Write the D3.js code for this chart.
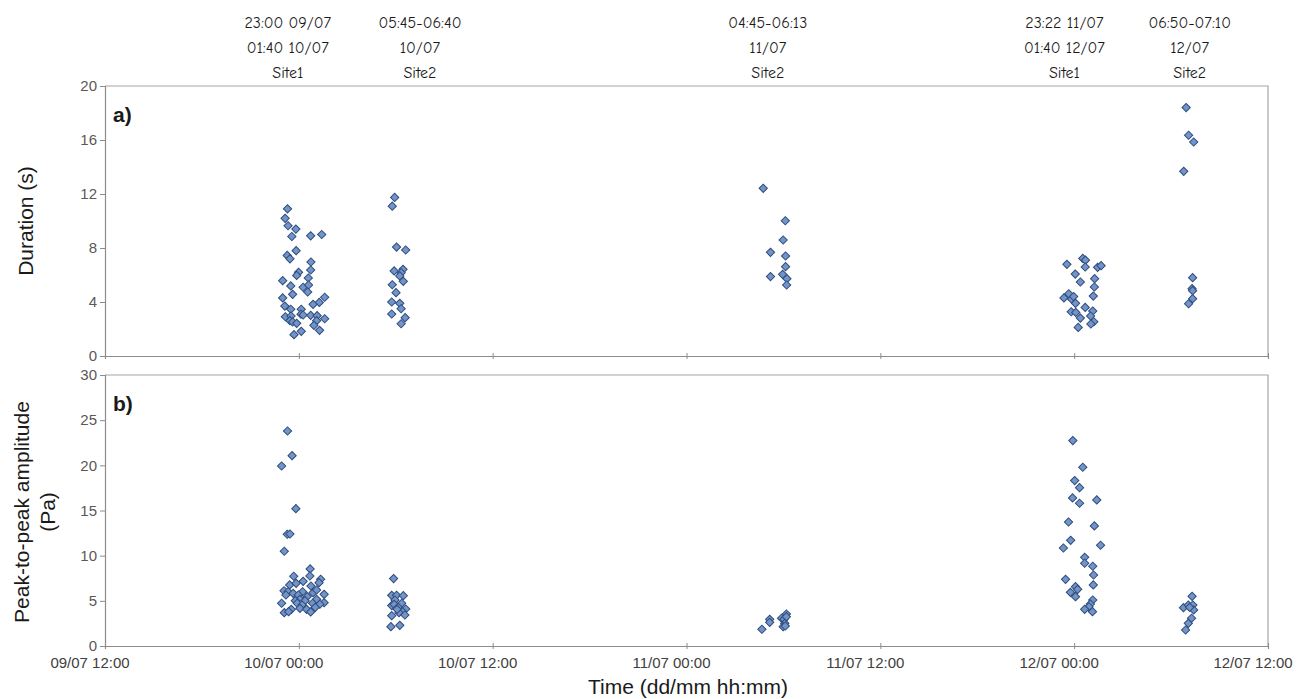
<!DOCTYPE html>
<html><head><meta charset="utf-8">
<script src="https://cdn.jsdelivr.net/npm/d3@7"></script>
<style>body{margin:0;background:#fff;} svg{display:block}</style>
</head><body>
<svg id="c" width="1296" height="699"></svg>
<script>
// ---------- DATA ----------
const durationTimes = [
"09/07 23:18","09/07 23:09","09/07 23:20","09/07 23:49","09/07 23:34","10/07 00:44","10/07 01:25","09/07 23:50","09/07 23:17","09/07 23:27",
"10/07 00:45","10/07 00:44","09/07 23:59","09/07 23:52","09/07 23:00","10/07 00:35","09/07 23:30","10/07 00:16","10/07 00:36","10/07 00:33",
"09/07 23:37","09/07 23:00","10/07 01:36","10/07 01:16","10/07 00:53","09/07 23:08","09/07 23:30","10/07 00:09","09/07 23:10","09/07 23:31",
"10/07 00:08","10/07 00:16","10/07 00:44","10/07 01:08","10/07 01:36","09/07 23:27","09/07 23:37","09/07 23:52","10/07 01:06","10/07 00:56",
"10/07 00:09","09/07 23:42","10/07 01:17",
"10/07 05:56","10/07 05:47","10/07 06:03","10/07 06:37","10/07 05:54","10/07 06:27","10/07 06:20","10/07 06:15","10/07 06:28","10/07 05:47",
"10/07 06:01","10/07 05:45","10/07 06:15","10/07 06:20","10/07 05:45","10/07 06:35","10/07 06:20",
"11/07 04:45","11/07 06:07","11/07 05:59","11/07 05:12","11/07 06:08","11/07 06:08","11/07 05:12","11/07 05:57","11/07 06:13","11/07 06:12",
"11/07 23:33","12/07 00:32","12/07 00:42","12/07 00:41","12/07 01:27","12/07 01:40","12/07 00:04","12/07 00:23","12/07 01:16","12/07 01:15",
"12/07 01:11","11/07 23:40","11/07 23:22","11/07 23:50","11/07 23:58","12/07 00:05","11/07 23:49","12/07 00:06","12/07 00:41","12/07 01:09",
"12/07 01:01","12/07 00:23","12/07 01:13","12/07 01:02","12/07 00:15",
"12/07 06:56","12/07 07:05","12/07 07:24","12/07 06:47","12/07 07:20","12/07 07:18","12/07 07:20","12/07 07:20","12/07 07:05"
];
const durationValues = [
10.9,10.2,9.65,9.4,8.85,8.9,9.0,7.8,7.45,7.2,
6.96,6.37,6.2,5.97,5.58,5.78,5.19,5.09,5.26,4.74,
4.57,4.3,4.35,3.97,3.83,3.7,3.46,3.46,2.91,2.96,
3.09,3.04,3.01,2.99,2.76,2.62,2.52,2.42,2.62,2.27,
1.83,1.58,1.9,
11.75,11.1,8.07,7.85,6.3,6.42,6.17,5.93,5.53,5.28,
4.69,4.0,3.9,3.5,3.11,2.84,2.39,
12.42,10.02,8.59,7.68,7.41,6.62,5.88,6.05,5.73,5.26,
6.79,7.23,7.1,6.59,6.57,6.69,6.07,5.48,5.73,5.11,
4.44,4.61,4.3,4.22,4.4,3.9,3.28,3.23,3.6,3.33,
2.96,2.81,2.54,2.37,2.12,
18.4,16.35,15.85,13.68,5.8,4.99,4.84,4.25,3.87
];
const amplitudeTimes = [
"09/07 23:18","09/07 23:35","09/07 22:56","09/07 23:49","09/07 23:17","09/07 23:27","09/07 23:06","10/07 00:42","09/07 23:41","10/07 00:41",
"10/07 00:16","10/07 01:21","10/07 01:15","09/07 23:26","10/07 00:45","09/07 23:50","09/07 23:05","09/07 23:20","09/07 23:39","10/07 00:14",
"10/07 00:53","10/07 01:06","10/07 01:34","09/07 23:12","09/07 23:58","10/07 00:31","10/07 00:04","09/07 23:47","10/07 00:23","10/07 01:06",
"10/07 01:34","09/07 22:56","09/07 23:54","10/07 00:12","10/07 00:51","10/07 01:18","10/07 00:04","09/07 23:32","10/07 00:29","09/07 23:06",
"09/07 23:22","10/07 00:44","10/07 01:01",
"10/07 05:52","10/07 05:45","10/07 06:03","10/07 06:28","10/07 05:57","10/07 05:45","10/07 05:54","10/07 06:22","10/07 06:09","10/07 06:37",
"10/07 06:25","10/07 05:45","10/07 06:12","10/07 06:34","10/07 05:42","10/07 06:15","10/07 06:05",
"11/07 04:40","11/07 05:09","11/07 05:09","11/07 05:53","11/07 06:11","11/07 06:02","11/07 06:05","11/07 05:59","11/07 06:07","11/07 06:11",
"11/07 23:55","12/07 00:32","12/07 00:02","12/07 00:20","11/07 23:54","12/07 00:20","12/07 01:24","11/07 23:39","12/07 01:15","11/07 23:47",
"11/07 23:20","12/07 01:38","12/07 00:39","12/07 00:39","12/07 01:09","12/07 01:12","11/07 23:28","12/07 01:11","12/07 00:05","12/07 00:13",
"11/07 23:46","12/07 00:05","12/07 01:09","12/07 01:00","12/07 00:55","12/07 00:39","12/07 01:08",
"12/07 07:18","12/07 06:46","12/07 07:04","12/07 07:21","12/07 07:24","12/07 07:16","12/07 07:04","12/07 06:54","12/07 07:09"
];
const amplitudeValues = [
23.8,21.07,19.93,15.2,12.37,12.4,10.49,8.53,7.72,7.75,
7.16,7.39,7.01,6.76,6.64,6.94,6.12,6.01,5.83,6.01,
5.9,6.2,5.72,5.65,5.65,5.46,5.17,5.02,5.02,5.17,
4.8,4.73,4.73,4.54,4.73,4.62,4.17,4.06,4.06,3.69,
3.8,3.77,4.28,
7.46,5.61,5.61,5.57,5.09,4.47,4.61,4.73,4.28,4.1,
3.8,3.36,3.69,3.43,2.14,2.29,4.06,
1.85,2.95,2.62,3.07,3.54,2.95,2.51,2.14,2.21,3.25,
22.74,19.79,18.31,17.53,16.39,15.8,16.17,13.73,13.29,11.7,
10.85,11.15,9.82,9.16,8.83,7.86,7.38,6.76,6.57,6.27,
5.94,5.46,5.09,4.65,4.35,4.06,3.8,
5.5,4.24,4.54,4.54,3.99,3.07,2.51,1.77,4.28
];
const durationTicks = [0,4,8,12,16,20];
const amplitudeTicks = [0,5,10,15,20,25,30];
const timeDomain = ["09/07 12:00","12/07 12:00"];
const annotationAnchors = ["09/07 23:19","10/07 07:30","11/07 05:02","11/07 23:24","12/07 07:09"];
const annotationLines = [
  ["23:00 09/07","01:40 10/07","Site1"],
  ["05:45-06:40","10/07","Site2"],
  ["04:45-06:13","11/07","Site2"],
  ["23:22 11/07","01:40 12/07","Site1"],
  ["06:50-07:10","12/07","Site2"]
];

// ---------- CHART ----------
const svg = d3.select("#c");
const parseT = d3.timeParse("%d/%m %H:%M");
const fmt = d3.timeFormat("%d/%m %H:%M");
const L = 105, R = 1268;
const x = d3.scaleTime().domain(timeDomain.map(parseT)).range([L, R]);
const xTicks = x.ticks(d3.timeHour.every(12));

const panels = [
  {top:86, bottom:356, max:20, ticks:durationTicks, times:durationTimes, vals:durationValues, tag:"a)"},
  {top:375, bottom:646, max:30, ticks:amplitudeTicks, times:amplitudeTimes, vals:amplitudeValues, tag:"b)"}
];
const tickFont = "'Liberation Sans', Arial, sans-serif";

panels.forEach(p => {
  const y = d3.scaleLinear().domain([0, p.max]).range([p.bottom, p.top]);
  svg.append("path")
    .attr("d", `M${L},${p.top}H${R}V${p.bottom}`)
    .attr("fill","none").attr("stroke","#a6a6a6").attr("stroke-width",1.2);
  const ya = svg.append("g").attr("transform",`translate(${L},0)`)
    .call(d3.axisLeft(y).tickValues(p.ticks).tickSize(5).tickPadding(3));
  ya.select(".domain").attr("stroke","#8c8c8c").attr("stroke-width",1.2);
  ya.selectAll(".tick line").attr("stroke","#8c8c8c");
  ya.selectAll("text").attr("font-family",tickFont).attr("font-size",15).attr("fill","#595959");
  const xa = svg.append("g").attr("transform",`translate(0,${p.bottom})`)
    .call(d3.axisBottom(x).tickValues(xTicks).tickSize(3).tickFormat(""));
  xa.select(".domain").attr("stroke","#8c8c8c").attr("stroke-width",1.2);
  xa.selectAll(".tick line").attr("stroke","#8c8c8c").attr("y1",-3);
  svg.append("text").attr("x",113).attr("y",p.top+36).text(p.tag)
    .attr("font-family",tickFont).attr("font-weight","bold").attr("font-size",21).attr("fill","#1a1a1a");
  const pts = p.times.map((t,i)=>({t:parseT(t), v:p.vals[i]}));
  svg.append("g").selectAll("path").data(pts).join("path")
    .attr("d", d3.symbol().type(d3.symbolSquare).size(34))
    .attr("transform", d => `translate(${x(d.t)},${y(d.v)}) rotate(45)`)
    .attr("fill","#7294c8").attr("stroke","#2f4c7c").attr("stroke-width",1);
});

svg.append("g").selectAll("text").data(xTicks).join("text")
  .attr("x", d => x(d) - 15).attr("y", 668)
  .attr("text-anchor","middle")
  .attr("font-family",tickFont).attr("font-size",15).attr("fill","#404040")
  .text(d => fmt(d));

svg.append("text").attr("transform","translate(33,221) rotate(-90)")
  .attr("text-anchor","middle").attr("font-family",tickFont).attr("font-size",21).attr("fill","#1a1a1a")
  .text("Duration (s)");
svg.append("text").attr("transform","translate(29,512) rotate(-90)")
  .attr("text-anchor","middle").attr("font-family",tickFont).attr("font-size",21).attr("fill","#1a1a1a")
  .text("Peak-to-peak amplitude");
svg.append("text").attr("transform","translate(55,512) rotate(-90)")
  .attr("text-anchor","middle").attr("font-family",tickFont).attr("font-size",21).attr("fill","#1a1a1a")
  .text("(Pa)");
svg.append("text").attr("x",688).attr("y",694)
  .attr("text-anchor","middle").attr("font-family",tickFont).attr("font-size",21).attr("fill","#1a1a1a")
  .text("Time (dd/mm hh:mm)");

const ann = svg.append("g");
annotationAnchors.forEach((a,i) => {
  annotationLines[i].forEach((line,j) => {
    ann.append("text").attr("x", x(parseT(a))).attr("y", 28 + j*25)
      .attr("text-anchor","middle")
      .attr("font-family","'Comic Sans MS','Comic Neue',Lato,sans-serif").attr("font-size",16).attr("fill","#1a1a1a")
      .text(line);
  });
});
</script>
</body></html>
